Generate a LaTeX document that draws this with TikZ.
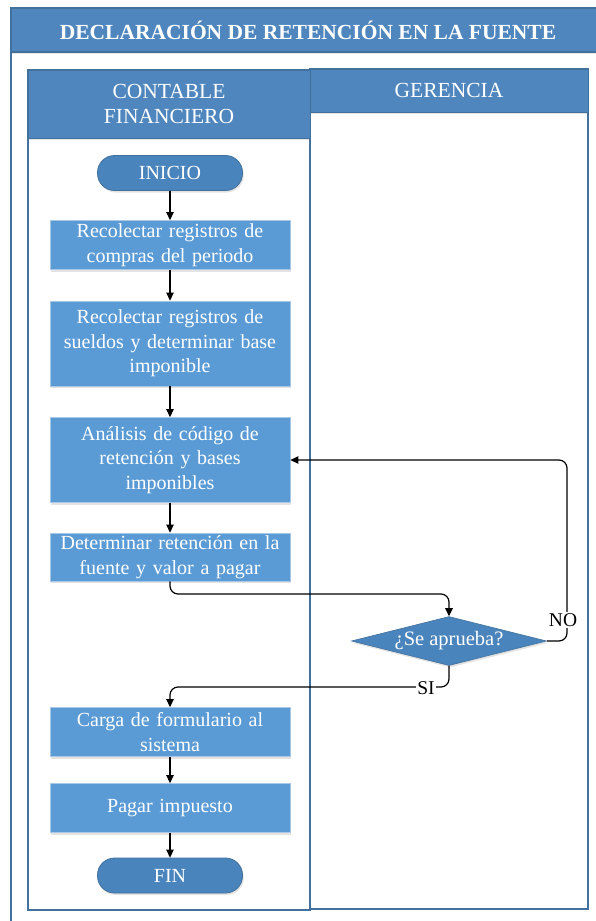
\documentclass[tikz,border=0pt]{standalone}
\usepackage{fontspec}
\setmainfont{Liberation Serif}
\usetikzlibrary{arrows.meta,shapes.geometric,shadows}
\definecolor{hdrblue}{HTML}{4F86BE}
\definecolor{lineblue}{HTML}{41719C}
\definecolor{boxblue}{HTML}{5B9BD5}
\definecolor{boxedge}{HTML}{A9C8E8}
\definecolor{termblue}{HTML}{4A84BC}
\tikzset{
  softshadow/.style={drop shadow={opacity=0.22,shadow xshift=1.2pt,shadow yshift=-2pt}},
  header/.style={draw=lineblue,line width=1pt,fill=hdrblue},
  lane/.style={draw=lineblue,line width=1.1pt},
  process/.style={rectangle,draw=boxedge,line width=0.8pt,fill=boxblue,softshadow,
    minimum width=240pt,text width=236pt,align=center,text=white,
    font=\fontsize{20}{24.5}\selectfont,inner sep=0pt},
  terminal/.style={rectangle,rounded corners=17pt,draw=lineblue,line width=0.8pt,
    fill=termblue,softshadow,minimum width=145pt,minimum height=35pt,
    text=white,font=\fontsize{20}{24}\selectfont,inner sep=0pt},
  decision/.style={diamond,aspect=4.06,draw=lineblue,line width=0.6pt,fill=termblue,
    softshadow,minimum width=195pt,minimum height=49pt,inner sep=0pt,
    text=white,font=\fontsize{20.5}{24}\selectfont},
  flow/.style={draw=black,line width=1.2pt,-{Triangle[length=8pt,width=7.5pt]},rounded corners=8pt},
  tag/.style={fill=white,inner sep=1pt,font=\fontsize{19.5}{22}\selectfont},
}
\begin{document}
\begin{tikzpicture}[x=1pt,y=-1pt]
\useasboundingbox (0,0) rectangle (595,921);
\fill[white] (0,0) rectangle (595,921);

% outer frame with title bar
\fill[hdrblue,drop shadow={opacity=0.2,shadow xshift=0pt,shadow yshift=-2pt}] (11,8) rectangle (600,52);
\draw[lane] (11,52) -- (600,52);
\draw[lane] (11,930) -- (11,8) -- (600,8);
\node[text=white,font=\bfseries\fontsize{21.5}{24}\selectfont] (title) at (308,30)
  {DECLARACIÓN DE RETENCIÓN EN LA FUENTE};

% swimlanes
\draw[lane] (28,70) rectangle (310,910);
\draw[lane] (310,69) rectangle (588,909);
\draw[header,drop shadow={opacity=0.2,shadow xshift=0pt,shadow yshift=-2pt}] (28,70) rectangle (310,138);
\draw[header,drop shadow={opacity=0.2,shadow xshift=0pt,shadow yshift=-2pt}] (310,69) rectangle (588,112);
\node[text=white,align=center,font=\fontsize{21.5}{25}\selectfont] (laneA) at (169,104)
  {CONTABLE\\FINANCIERO};
\node[text=white,font=\fontsize{21.5}{25}\selectfont] (laneB) at (449,90) {GERENCIA};

% process steps
\node[terminal] (start) at (170,173) {INICIO};
\node[process,minimum height=49pt] (b1) at (170,245) {Recolectar registros de\\compras del periodo};
\node[process,minimum height=85pt] (b2) at (170,343.5) {Recolectar registros de\\sueldos y determinar base\\imponible};
\node[process,minimum height=85pt] (b3) at (170,460) {Análisis de código de\\retención y bases\\imponibles};
\node[process,minimum height=48pt] (b4) at (170,557) {Determinar retención en la\\fuente y valor a pagar};
\node[decision] (dec) at (449,641) {¿Se aprueba?};
\node[process,minimum height=49pt] (b5) at (170,732) {Carga de formulario al\\sistema};
\node[process,minimum height=49pt] (b6) at (170,808) {Pagar impuesto};
\node[terminal] (stop) at (170,875.5) {FIN};

% connectors
\coordinate (c4) at (170,594);
\coordinate (loop) at (567,460);
\coordinate (yes) at (449,687);
\draw[flow] (start) -- (b1);
\draw[flow] (b1) -- (b2);
\draw[flow] (b2) -- (b3);
\draw[flow] (b3) -- (b4);
\draw[flow] (b4.south) -- (c4) -| (dec.north);
\draw[flow] (dec.east) -| (loop) -- (b3.east);
\draw[flow] (dec.south) -- (yes) -| (b5.north);
\draw[flow] (b5) -- (b6);
\draw[flow] (b6) -- (stop);
\node[tag] (no) at (563,620) {NO};
\node[tag] (si) at (426,688) {SI};
\end{tikzpicture}
\end{document}
